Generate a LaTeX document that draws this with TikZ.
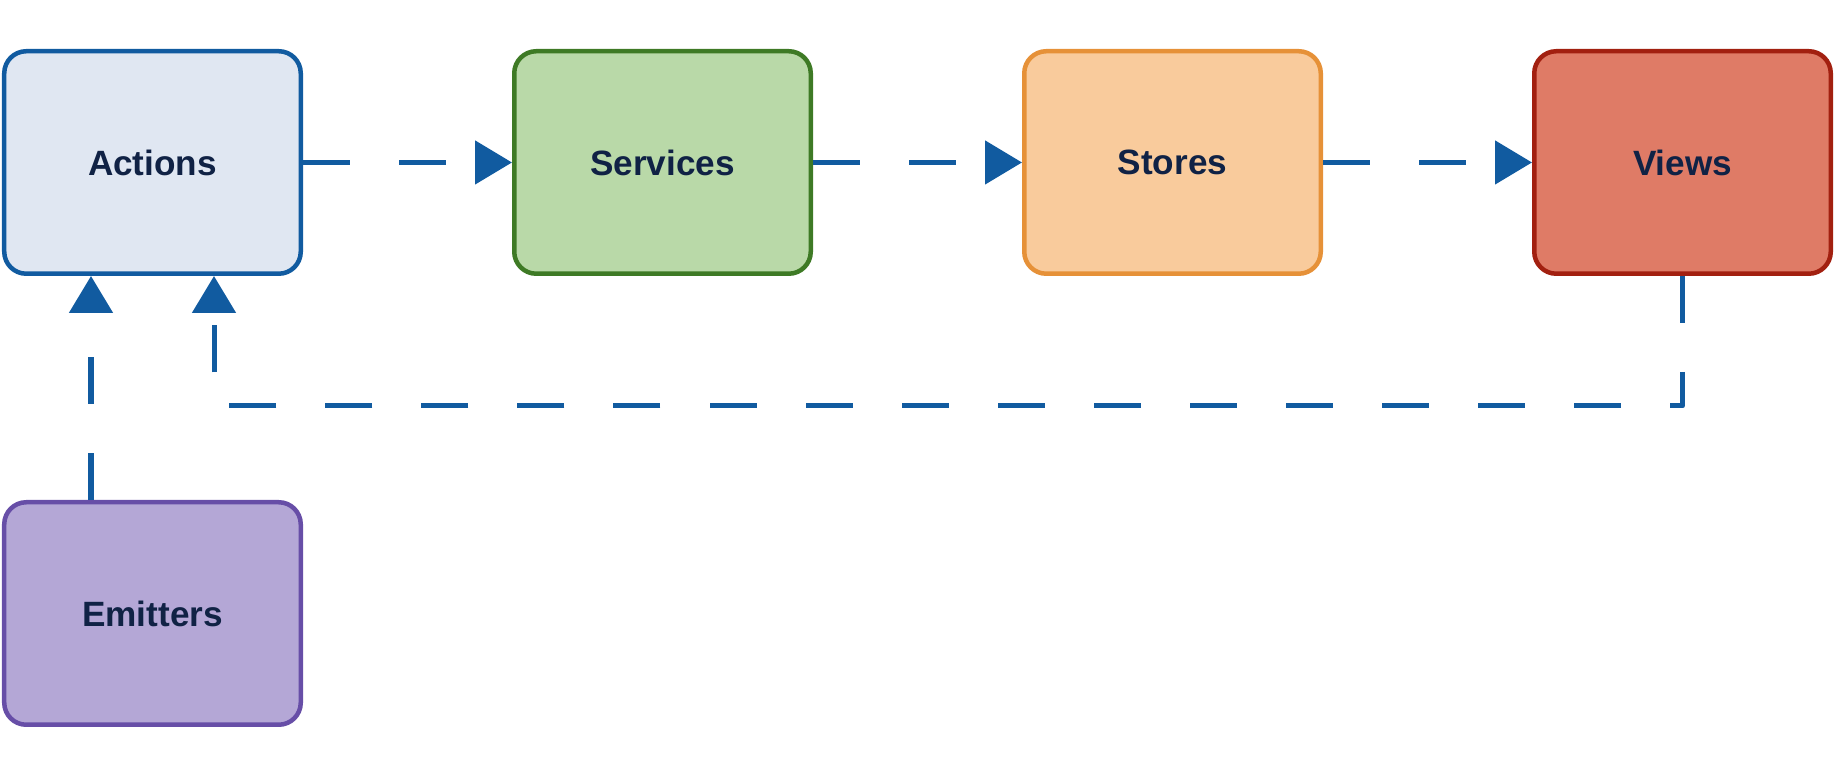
\documentclass[tikz,border=0pt]{standalone}
\usepackage{fontspec}
\setmainfont{Liberation Sans}
\usetikzlibrary{positioning,arrows.meta}
\definecolor{flowblue}{HTML}{115BA0}
\definecolor{txtnavy}{HTML}{102245}
\begin{document}
\begin{tikzpicture}[font=\fontsize{10}{12}\selectfont\bfseries, line join=round,
	box/.style={draw, line width=0.045cm, rounded corners=0.22cm, minimum width=2.965cm, minimum height=2.225cm, text=txtnavy},
	flow/.style={draw=flowblue, line width=0.05cm, dash pattern=on 0.47cm off 0.49cm, -{Triangle[length=0.37cm, width=0.43cm]}}]
		\useasboundingbox (0,0) rectangle (18.36,-7.72);
		\node[box, draw=flowblue, fill={rgb,255:red,224;green,231;blue,242}] (actions) at (1.525,-1.625) {Actions};
		\node[box, draw={rgb,255:red,62;green,122;blue,37}, fill={rgb,255:red,185;green,217;blue,168}, right=2.09cm of actions] (services) {Services};
		\node[box, draw={rgb,255:red,230;green,145;blue,56}, fill={rgb,255:red,249;green,203;blue,156}, right=2.09cm of services] (stores) {Stores};
		\node[box, draw={rgb,255:red,162;green,32;blue,16}, fill={rgb,255:red,223;green,123;blue,102}, right=2.09cm of stores] (views) {Views};
		\node[box, draw={rgb,255:red,103;green,78;blue,167}, fill={rgb,255:red,180;green,167;blue,214}, below=2.24cm of actions] (emitters) {Emitters};
		\draw[flow] (actions) -- (services);
		\draw[flow] (services) -- (stores);
		\draw[flow] (stores) -- (views);
		\draw[flow] ([xshift=-0.615cm]emitters.north) -- ([xshift=-0.615cm]actions.south);
		\draw[flow] (views.south) -- ++(0,-1.3) -| ([xshift=0.615cm]actions.south);
	\end{tikzpicture}
\end{document}
